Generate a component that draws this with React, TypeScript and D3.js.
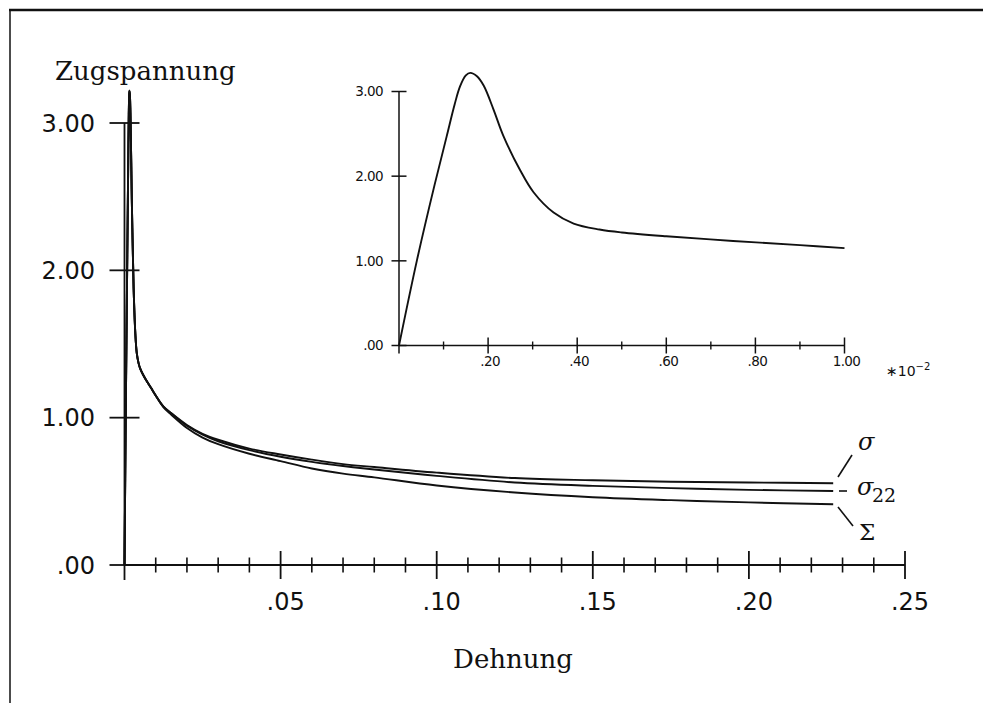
import React from "react";
import * as d3 from "d3";

// Inset: strain in units of 1e-2, stress
const peakStrain = [0, 0.04, 0.08, 0.107, 0.125, 0.137, 0.15, 0.16, 0.175, 0.19, 0.212, 0.234, 0.272, 0.302, 0.347, 0.392, 0.45, 0.5, 0.6, 0.75, 0.9, 1.0];
const peakStress = [0, 1.0, 1.9, 2.47, 2.85, 3.06, 3.19, 3.22, 3.18, 3.07, 2.79, 2.48, 2.07, 1.81, 1.57, 1.44, 1.37, 1.335, 1.29, 1.235, 1.185, 1.15];

// Main tail (after 0.01 strain)
const tailStrain = [0.0125, 0.015, 0.02, 0.025, 0.03, 0.04, 0.05, 0.06, 0.07, 0.08, 0.1, 0.125, 0.15, 0.175, 0.2, 0.227];
const sigmaTail = [1.075, 1.03, 0.95, 0.89, 0.85, 0.79, 0.75, 0.715, 0.685, 0.665, 0.627, 0.59, 0.575, 0.565, 0.56, 0.555];
const sigma22Tail = [1.075, 1.03, 0.945, 0.885, 0.84, 0.78, 0.735, 0.7, 0.672, 0.648, 0.605, 0.56, 0.537, 0.522, 0.51, 0.502];
const SigmaTail = [1.07, 1.02, 0.93, 0.865, 0.82, 0.755, 0.705, 0.655, 0.62, 0.595, 0.54, 0.492, 0.46, 0.44, 0.425, 0.412];

const mainXTicks = [0.05, 0.1, 0.15, 0.2, 0.25];
const mainXTickLabels = [".05", ".10", ".15", ".20", ".25"];
const mainYTicks = [0, 1, 2, 3];
const mainYTickLabels = [".00", "1.00", "2.00", "3.00"];
const insetXTicks = [0.2, 0.4, 0.6, 0.8, 1.0];
const insetXTickLabels = [".20", ".40", ".60", ".80", "1.00"];
const insetYTicks = [0, 1, 2, 3];
const insetYTickLabels = [".00", "1.00", "2.00", "3.00"];

type P = [number, number];

export default function App() {
  const x = d3.scaleLinear().domain([0, 0.25]).range([124.5, 905]);
  const y = d3.scaleLinear().domain([0, 3]).range([565, 123]);
  const ix = d3.scaleLinear().domain([0, 1]).range([399, 844.5]);
  const iy = d3.scaleLinear().domain([0, 3]).range([345.5, 91.5]);

  const headMain: P[] = peakStrain.map((s, i) => [s * 0.01, peakStress[i]]);
  const mk = (tail: number[]): P[] => headMain.concat(tailStrain.map((s, i) => [s, tail[i]] as P));
  const mainLine = d3.line<P>().x(d => x(d[0])).y(d => y(d[1])).curve(d3.curveCatmullRom.alpha(0.5));
  const insetLine = d3.line<P>().x(d => ix(d[0])).y(d => iy(d[1])).curve(d3.curveCatmullRom.alpha(0.5));
  const insetData: P[] = peakStrain.map((s, i) => [s, peakStress[i]]);

  const minorMain = d3.range(1, 25).map(i => i / 100).filter(v => Math.round(v * 100) % 5 !== 0);
  const minorInset = d3.range(1, 10, 2).map(i => i / 10);

  const sans = "DejaVu Sans, sans-serif";
  const serif = "DejaVu Serif, serif";
  const stroke = "#111";

  return (
    <svg width={983} height={703} style={{ position: "absolute", left: 0, top: 0, background: "#fff" }}>
      {/* frame */}
      <line x1={9} x2={983} y1={10} y2={10} stroke={stroke} strokeWidth={2.5} />
      <line x1={10} x2={10} y1={9} y2={703} stroke={stroke} strokeWidth={1.5} />

      {/* main axes */}
      <line x1={x(0)} x2={x(0)} y1={y(3)} y2={y(0) + 15} stroke={stroke} strokeWidth={1.8} />
      <line x1={x(0)} x2={x(0.25)} y1={y(0)} y2={y(0)} stroke={stroke} strokeWidth={1.8} />
      {mainYTicks.map((t, i) => (
        <g key={"my" + i}>
          <line x1={x(0) - 15} x2={x(0) + 15} y1={y(t)} y2={y(t)} stroke={stroke} strokeWidth={1.8} />
          <text x={95} y={y(t)} dy="0.36em" textAnchor="end" fontFamily={sans} fontSize={24} fill={stroke}>{mainYTickLabels[i]}</text>
        </g>
      ))}
      {minorMain.map((t, i) => (
        <line key={"mm" + i} x1={x(t)} x2={x(t)} y1={y(0) - 7.5} y2={y(0) + 7.5} stroke={stroke} strokeWidth={1.6} />
      ))}
      {mainXTicks.map((t, i) => (
        <g key={"mx" + i}>
          <line x1={x(t)} x2={x(t)} y1={y(0) - 14} y2={y(0) + 14} stroke={stroke} strokeWidth={1.8} />
          <text x={x(t) + 5} y={610} textAnchor="middle" fontFamily={sans} fontSize={24} fill={stroke}>{mainXTickLabels[i]}</text>
        </g>
      ))}
      <text x={55} y={80} fontFamily={serif} fontSize={26} fill={stroke}>Zugspannung</text>
      <text x={513} y={668} textAnchor="middle" fontFamily={serif} fontSize={26} fill={stroke}>Dehnung</text>

      {/* main curves */}
      {[sigmaTail, sigma22Tail, SigmaTail].map((tail, i) => (
        <path key={"c" + i} d={mainLine(mk(tail)) || ""} fill="none" stroke={stroke} strokeWidth={1.9} />
      ))}

      {/* curve labels */}
      <line x1={838} y1={477} x2={852} y2={455} stroke={stroke} strokeWidth={1.6} />
      <line x1={839} y1={491} x2={847} y2={491} stroke={stroke} strokeWidth={1.6} />
      <line x1={838} y1={507} x2={853} y2={526} stroke={stroke} strokeWidth={1.6} />
      <text x={858} y={450} fontFamily={serif} fontStyle="italic" fontSize={24} fill={stroke}>σ</text>
      <text x={857} y={495} fontFamily={serif} fontStyle="italic" fontSize={24} fill={stroke}>σ</text>
      <text x={872} y={502} fontFamily={serif} fontSize={19} fill={stroke}>22</text>
      <text x={859} y={540} fontFamily={serif} fontSize={23} fill={stroke}>Σ</text>

      {/* inset axes */}
      <line x1={ix(0)} x2={ix(0)} y1={iy(3)} y2={iy(0) + 8} stroke={stroke} strokeWidth={1.5} />
      <line x1={ix(0)} x2={ix(1)} y1={iy(0)} y2={iy(0)} stroke={stroke} strokeWidth={1.5} />
      {insetYTicks.map((t, i) => (
        <g key={"iy" + i}>
          <line x1={ix(0) - 7.5} x2={ix(0) + 7.5} y1={iy(t)} y2={iy(t)} stroke={stroke} strokeWidth={1.5} />
          <text x={383} y={iy(t)} dy="0.36em" textAnchor="end" fontFamily={sans} fontSize={13.5} letterSpacing={-0.6} fill={stroke}>{insetYTickLabels[i]}</text>
        </g>
      ))}
      {minorInset.map((t, i) => (
        <line key={"im" + i} x1={ix(t)} x2={ix(t)} y1={iy(0) - 4} y2={iy(0) + 4} stroke={stroke} strokeWidth={1.4} />
      ))}
      {insetXTicks.map((t, i) => (
        <g key={"ix" + i}>
          <line x1={ix(t)} x2={ix(t)} y1={iy(0) - 8} y2={iy(0) + 8} stroke={stroke} strokeWidth={1.5} />
          <text x={ix(t) + 2} y={366} textAnchor="middle" fontFamily={sans} fontSize={13.5} letterSpacing={-0.6} fill={stroke}>{insetXTickLabels[i]}</text>
        </g>
      ))}
      <text x={886} y={376} fontFamily={sans} fontSize={14} fill={stroke}>
        ∗10<tspan dy={-6} fontSize={10}>−2</tspan>
      </text>
      <path d={insetLine(insetData) || ""} fill="none" stroke={stroke} strokeWidth={1.9} />
    </svg>
  );
}
